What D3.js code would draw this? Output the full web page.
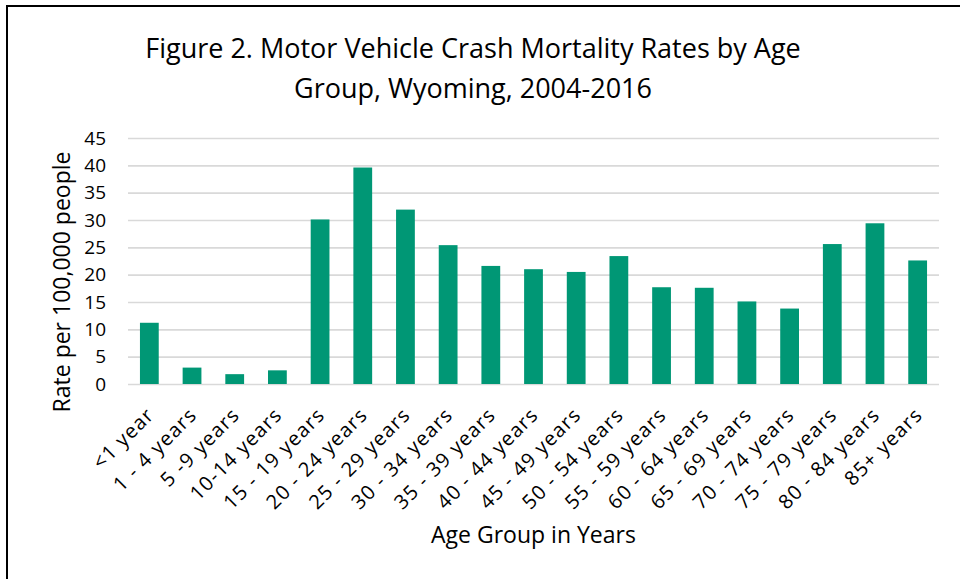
<!DOCTYPE html>
<html>
<head>
<meta charset="utf-8">
<script src="https://cdn.jsdelivr.net/npm/d3@7"></script>
<style>
	body { margin: 0; background: #fff; }
	text { font-family: "Open Sans", "Noto Sans", sans-serif; fill: #000; }
	.grid line { stroke: #d9d9d9; stroke-width: 1.6px; }
	.grid path { display: none; }
</style>
</head>
<body>
<div id="container"></div>
<script>
// chart data
var ageGroups = ["<1 year", "1 - 4 years", "5 -9 years", "10-14 years", "15 - 19 years",
	"20 - 24 years", "25 - 29 years", "30 - 34 years", "35 - 39 years", "40 - 44 years",
	"45 - 49 years", "50 - 54 years", "55 - 59 years", "60 - 64 years", "65 - 69 years",
	"70 - 74 years", "75 - 79 years", "80 - 84 years", "85+ years"];
var rates = [11.2, 3.0, 1.8, 2.5, 30.1, 39.6, 31.9, 25.4, 21.6, 21.0,
	20.5, 23.4, 17.7, 17.6, 15.1, 13.8, 25.6, 29.4, 22.6];
var yTicks = [0, 5, 10, 15, 20, 25, 30, 35, 40, 45];
var titleLines = ["Figure 2. Motor Vehicle Crash Mortality Rates by Age", "Group, Wyoming, 2004-2016"];

function load() {
	var W = 960, H = 579;
	var margin = { top: 138, right: 21, bottom: 195, left: 128 },
		width = W - margin.left - margin.right,
		height = H - margin.top - margin.bottom;

	var svg = d3.select("#container").append("svg")
		.attr("width", W)
		.attr("height", H);

	// outer frame (right and bottom edges fall outside the picture)
	svg.append("rect")
		.attr("x", 7).attr("y", 6)
		.attr("width", W + 20).attr("height", H + 20)
		.attr("fill", "none")
		.attr("stroke", "#000")
		.attr("stroke-width", 2);

	// title
	svg.append("g").selectAll("text")
		.data(titleLines)
	  .enter().append("text")
		.attr("x", 473)
		.attr("y", function(d, i) { return 58 + i * 40; })
		.attr("text-anchor", "middle")
		.style("font-size", "27px")
		.text(function(d) { return d; });

	var g = svg.append("g")
		.attr("transform", "translate(" + margin.left + "," + margin.top + ")");

	var x = d3.scaleBand()
		.domain(ageGroups)
		.range([0, width])
		.paddingInner(0.56)
		.paddingOuter(0.28);

	var y = d3.scaleLinear()
		.domain([0, 45])
		.range([height, 0]);

	// gridlines
	g.append("g")
		.attr("class", "grid")
		.call(d3.axisLeft(y).tickValues(yTicks).tickSize(-width).tickFormat(""));

	// bars
	g.selectAll(".bar")
		.data(rates)
	  .enter().append("rect")
		.attr("class", "bar")
		.attr("x", function(d, i) { return x(ageGroups[i]); })
		.attr("width", x.bandwidth())
		.attr("y", function(d) { return y(d); })
		.attr("height", function(d) { return height - y(d); })
		.attr("fill", "#009775");

	// y tick labels
	g.append("g")
		.call(d3.axisLeft(y).tickValues(yTicks).tickSize(0).tickPadding(22))
		.call(function(a) { a.select(".domain").remove(); })
		.selectAll("text")
		.style("font-size", "19px")
		.style("font-family", "\"Open Sans\", sans-serif");

	// x tick labels, rotated
	g.append("g")
		.attr("transform", "translate(0," + height + ")")
		.call(d3.axisBottom(x).tickSize(0))
		.call(function(a) { a.select(".domain").remove(); })
		.selectAll("text")
		.style("font-size", "20px")
		.style("letter-spacing", "1.2px")
		.style("font-family", "\"Open Sans\", sans-serif")
		.attr("text-anchor", "end")
		.attr("dy", "0.35em")
		.attr("transform", "translate(-1,25) rotate(-45)");

	// axis titles
	svg.append("text")
		.attr("x", margin.left + width / 2)
		.attr("y", 543)
		.attr("text-anchor", "middle")
		.style("font-size", "23px")
		.text("Age Group in Years");

	svg.append("text")
		.attr("transform", "translate(70,282) rotate(-90)")
		.attr("text-anchor", "middle")
		.style("font-size", "23px")
		.text("Rate per 100,000 people");
}
load();
</script>
</body>
</html>
